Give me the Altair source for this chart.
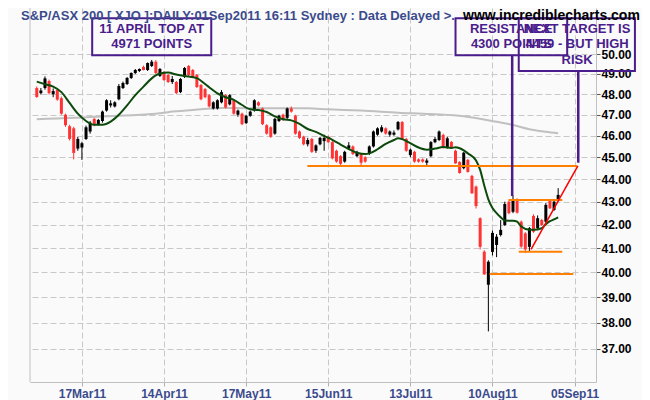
import altair as alt
import pandas as pd

# ---------------- price data (hundreds of index points), one bar per trading day ----------------
opens = [48.30, 48.05, 48.30, 48.65, 48.00, 48.20, 47.80, 47.00, 46.45, 46.35,
         45.40, 45.45, 45.85, 46.20, 46.80, 46.55, 46.70, 47.20, 47.45, 47.40,
         47.75, 48.30, 48.50, 48.80, 49.05, 49.15, 49.35, 49.20, 49.40, 49.62,
         48.90, 49.10, 48.95, 48.60, 48.60, 48.10, 48.85, 49.40, 49.20, 48.95,
         48.45, 48.25, 47.95, 47.30, 47.30, 47.60, 47.95, 47.50, 47.70, 47.00,
         47.05, 46.60, 46.95, 47.20, 47.60, 47.30, 46.50, 46.40, 46.10, 46.70,
         47.00, 46.85, 47.30, 46.95, 46.20, 45.95, 45.60, 45.85, 45.30, 45.60,
         45.75, 45.95, 45.70, 45.30, 45.05, 44.80, 45.40, 45.50, 45.05, 45.15,
         45.00, 45.15, 45.50, 46.05, 46.20, 46.35, 46.05, 46.05, 46.30, 46.65,
         45.85, 45.10, 45.25, 44.90, 44.90, 44.75, 45.05, 45.70, 45.80, 46.04,
         45.43, 45.71, 45.30, 44.78, 44.50, 44.88, 44.15, 43.67, 42.28, 40.86,
         39.50, 40.85, 41.14, 41.56, 41.99, 43.00, 42.56, 43.11, 42.13, 41.63,
         41.06, 42.38, 41.85, 42.20, 42.13, 43.08, 42.64, 43.08]
highs = [48.38, 48.30, 48.88, 48.72, 48.28, 48.25, 47.88, 47.05, 46.52, 46.42,
         45.95, 45.72, 46.48, 46.70, 46.85, 46.80, 47.20, 47.75, 47.70, 47.65,
         48.50, 48.62, 48.85, 49.08, 49.25, 49.28, 49.42, 49.58, 49.71, 49.70,
         49.30, 49.15, 49.00, 48.90, 48.65, 48.80, 49.35, 49.45, 49.25, 49.00,
         48.50, 48.30, 48.00, 47.65, 47.75, 48.20, 48.00, 48.00, 47.75, 47.25,
         47.10, 47.00, 47.20, 47.75, 47.65, 47.35, 46.55, 46.45, 46.85, 47.00,
         47.05, 47.35, 47.40, 47.00, 46.25, 46.00, 45.90, 45.90, 45.60, 45.95,
         46.05, 46.00, 45.75, 45.35, 45.10, 45.30, 45.70, 45.55, 45.30, 45.20,
         45.05, 45.55, 46.25, 46.40, 46.50, 46.40, 46.25, 46.25, 46.70, 46.70,
         45.90, 45.40, 45.30, 44.95, 44.95, 44.95, 45.75, 45.95, 46.25, 46.10,
         45.95, 45.75, 45.35, 44.82, 45.25, 44.92, 44.20, 43.72, 42.32, 40.92,
         40.50, 41.75, 41.60, 42.20, 43.00, 43.05, 43.28, 43.15, 42.18, 41.68,
         41.90, 42.45, 42.40, 42.25, 42.94, 43.12, 43.05, 43.60]
lows = [47.82, 47.98, 48.22, 47.98, 47.85, 47.68, 47.00, 46.42, 45.78, 44.90,
        45.30, 44.88, 45.80, 46.10, 46.45, 46.48, 46.62, 47.15, 47.35, 47.35,
        47.70, 48.25, 48.45, 48.75, 49.00, 49.10, 49.18, 49.15, 49.35, 48.98,
        48.85, 48.65, 48.55, 48.50, 48.00, 48.05, 48.80, 48.90, 48.80, 48.30,
        47.70, 47.80, 47.35, 47.25, 47.25, 47.55, 47.30, 47.45, 47.00, 46.90,
        46.50, 46.55, 46.90, 47.15, 47.40, 46.50, 46.05, 45.90, 46.05, 46.65,
        46.70, 46.80, 47.10, 46.05, 45.85, 45.55, 45.50, 45.20, 45.20, 45.55,
        45.30, 45.65, 44.90, 44.75, 44.60, 44.75, 45.35, 45.10, 45.00, 44.60,
        44.75, 45.10, 45.45, 46.00, 46.15, 46.05, 45.95, 46.00, 46.25, 45.80,
        45.25, 45.00, 44.75, 44.75, 44.75, 44.60, 45.00, 45.65, 45.75, 45.40,
        45.40, 45.40, 44.70, 44.25, 44.45, 44.30, 43.35, 42.70, 40.95, 39.90,
        37.66, 40.70, 40.63, 41.50, 41.95, 42.45, 42.50, 42.48, 41.02, 40.80,
        40.85, 41.65, 41.80, 41.95, 42.08, 42.68, 42.60, 43.02]
closes = [47.86, 48.18, 48.78, 48.05, 48.15, 47.73, 47.05, 46.50, 45.85, 45.20,
          45.85, 45.65, 46.40, 46.62, 46.50, 46.75, 47.15, 47.70, 47.55, 47.60,
          48.40, 48.55, 48.80, 49.05, 49.20, 49.25, 49.20, 49.55, 49.62, 49.05,
          49.25, 48.70, 48.60, 48.75, 48.05, 48.75, 49.30, 48.95, 48.85, 48.35,
          47.75, 47.85, 47.40, 47.60, 47.70, 48.10, 47.35, 47.95, 47.05, 47.20,
          46.55, 46.95, 47.15, 47.70, 47.45, 46.55, 46.10, 45.95, 46.80, 46.95,
          46.75, 47.30, 47.15, 46.10, 45.90, 45.60, 45.80, 45.25, 45.55, 45.90,
          45.90, 45.70, 44.95, 44.80, 44.70, 45.25, 45.55, 45.15, 45.25, 44.75,
          44.80, 45.50, 46.20, 46.35, 46.40, 46.10, 46.20, 46.15, 46.65, 45.85,
          45.30, 45.35, 44.80, 44.80, 44.80, 44.85, 45.70, 45.85, 46.20, 45.43,
          45.88, 45.43, 44.72, 44.28, 45.21, 44.33, 43.37, 42.81, 41.06, 39.92,
          40.44, 41.65, 41.49, 41.78, 42.90, 42.50, 43.08, 42.52, 41.07, 40.95,
          41.85, 41.70, 42.28, 41.99, 42.86, 42.71, 43.00, 43.30]

# short moving average (dark green)
ma_short_idx = [0, 2, 4, 6, 8, 10, 12, 14, 16, 18, 20, 22, 24, 26, 28, 30, 32, 34, 36, 39,
                41, 42, 44, 46, 48, 50, 52, 54, 56, 58, 60, 62, 64, 66, 68, 70, 72, 74, 76, 78,
                80, 81, 83, 85, 87, 88, 89, 91, 93, 95, 97, 99, 101, 102, 104, 105, 107, 108, 109, 110,
                111, 112, 113, 114, 116, 117, 118, 120, 121, 123, 124, 125, 126, 127]
ma_short_val = [48.62, 48.49, 48.37, 48.10, 47.57, 47.05, 46.70, 46.52, 46.52, 46.67, 47.00, 47.45,
                47.95, 48.37, 48.78, 49.02, 49.07, 48.97, 48.90, 48.79, 48.50, 48.34, 48.04, 47.85,
                47.72, 47.47, 47.26, 47.23, 47.13, 46.92, 46.78, 46.73, 46.56, 46.32, 46.18, 45.99,
                45.81, 45.59, 45.38, 45.21, 45.15, 45.18, 45.37, 45.62, 45.80, 45.88, 45.84, 45.65,
                45.45, 45.35, 45.40, 45.47, 45.43, 45.46, 45.32, 45.18, 44.85, 44.42, 43.72, 43.10,
                42.72, 42.50, 42.32, 42.18, 42.17, 42.13, 41.92, 41.78, 41.78, 41.85, 42.02, 42.15,
                42.23, 42.32]

# long moving average (grey)
ma_long_idx = [0, 16, 31, 33, 40, 45, 52, 66, 71, 79, 88, 96, 104, 112, 116, 120, 124, 127]
ma_long_val = [46.78, 46.91, 47.10, 47.15, 47.26, 47.33, 47.31, 47.31, 47.26, 47.20, 47.10, 47.03,
               46.93, 46.66, 46.51, 46.31, 46.19, 46.12]

# axes
tick_idx = [11, 31, 51, 71, 91, 111, 131]
tick_labels = ["17Mar11", "14Apr11", "17May11", "15Jun11", "13Jul11", "10Aug11", "05Sep11"]
y_ticks = [37, 38, 39, 40, 41, 42, 43, 44, 45, 46, 47, 48, 49, 50]

# drawn annotations (in bar index / price coordinates)
level_x1 = [65.9, 114.9, 117.4, 110.3]
level_x2 = [131.6, 128.0, 128.0, 130.7]
level_y = [44.60, 43.08, 40.86, 39.94]

trend_idx = [120.4, 131.8]
trend_val = [40.95, 44.60]

pointer_x = [115.8, 131.9]
pointer_top = [49.95, 49.15]
pointer_bottom = [43.25, 44.75]

box_x1 = [13.5, 102.0, 117.4]
box_x2 = [42.5, 129.2, 145.7]
box_top = [51.87, 51.87, 51.87]
box_bottom = [49.95, 49.95, 49.15]

note_text = ["11 APRIL TOP AT", "4971 POINTS", "RESISTANCE", "4300 POINTS",
             "NEXT TARGET IS", "4459 - BUT HIGH", "RISK"]
note_x = [28.0, 28.0, 115.6, 115.6, 131.6, 131.6, 131.6]
note_y = [51.33, 50.53, 51.33, 50.53, 51.33, 50.53, 49.71]

title_main = "S&P/ASX 200 [ XJO ]:DAILY:01Sep2011 16:11 Sydney : Data Delayed >."
title_site = "www.incrediblecharts.com"

# ---------------- chart ----------------
FONT = "Liberation Sans"
PURPLE = "#4a1c8c"
W, H = 566, 374

candles = pd.DataFrame({"i": list(range(len(opens))), "o": opens, "h": highs, "l": lows, "c": closes})
ma_s = pd.DataFrame({"i": ma_short_idx, "v": ma_short_val})
ma_l = pd.DataFrame({"i": ma_long_idx, "v": ma_long_val})
levels = pd.DataFrame({"x1": level_x1, "x2": level_x2, "y": level_y})
trend = pd.DataFrame({"i": trend_idx, "v": trend_val})
pointers = pd.DataFrame({"x": pointer_x, "y1": pointer_top, "y2": pointer_bottom})
boxes = pd.DataFrame({"x1": box_x1, "x2": box_x2, "y1": box_top, "y2": box_bottom})
notes = pd.DataFrame({"x": note_x, "y": note_y, "t": note_text})

xs = alt.Scale(domain=[-0.43, 135.0], nice=False, zero=False)
ys = alt.Scale(type="log", domain=[35.76, 52.42], nice=False)

labels_js = "[" + ",".join("'%s'" % s for s in tick_labels) + "]"
idx_js = "[" + ",".join(str(v) for v in tick_idx) + "]"

x_axis = alt.Axis(values=tick_idx, labelExpr="%s[indexof(%s, datum.value)]" % (labels_js, idx_js),
                  title=None, grid=True, gridDash=[6, 3], gridColor="#c8c8c8", gridWidth=1,
                  domainColor="#c0c0c0", tickColor="#b0b0b0", tickSize=4,
                  labelFont=FONT, labelFontWeight="bold", labelFontSize=12, labelColor="#3b4a8c",
                  labelPadding=2, labelFlush=False, labelOverlap=False)
y_axis = alt.Axis(orient="right", values=y_ticks, format=".2f", title=None,
                  grid=True, gridDash=[6, 3], gridColor="#c8c8c8", gridWidth=1,
                  domainColor="#c0c0c0", tickColor="#555555", tickSize=4,
                  labelFont=FONT, labelFontWeight="bold", labelFontSize=12, labelColor="#000000",
                  labelPadding=1, labelFlush=False, labelOverlap=False)


def X(field):
    return alt.X(field, type="quantitative", scale=xs, axis=x_axis)


def Y(field):
    return alt.Y(field, type="quantitative", scale=ys, axis=y_axis)


candle_color = alt.condition("datum.c >= datum.o", alt.value("#000000"), alt.value("#ff3333"))

long_ma = alt.Chart(ma_l).mark_line(color="#c0c0c0", strokeWidth=2, interpolate="monotone").encode(
    x=X("i"), y=Y("v"))

wicks = alt.Chart(candles).mark_rule(strokeWidth=1).encode(
    x=X("i"), y=Y("l"), y2="h", color=candle_color)

bodies = alt.Chart(candles).mark_bar(width=3).encode(
    x=X("i"), y=Y("o"), y2="c", color=candle_color)

short_ma = alt.Chart(ma_s).mark_line(color="#0b4a0b", strokeWidth=2, interpolate="monotone").encode(
    x=X("i"), y=Y("v"))

level_lines = alt.Chart(levels).mark_rule(color="#ff8000", strokeWidth=2).encode(
    x=X("x1"), x2="x2", y=Y("y"))

trend_line = alt.Chart(trend).mark_line(color="#ff0000", strokeWidth=1.5).encode(
    x=X("i"), y=Y("v"))

pointer_lines = alt.Chart(pointers).mark_rule(color=PURPLE, strokeWidth=2.5).encode(
    x=X("x"), y=Y("y1"), y2="y2")

note_boxes = alt.Chart(boxes).mark_rect(fillOpacity=0, stroke=PURPLE, strokeWidth=2).encode(
    x=X("x1"), x2="x2", y=Y("y1"), y2="y2")

note_texts = alt.Chart(notes).mark_text(font=FONT, fontSize=13, fontWeight="bold", color=PURPLE,
                                        align="center", baseline="middle").encode(
    x=X("x"), y=Y("y"), text="t:N")

left_frame = alt.Chart(pd.DataFrame({"a": [0]})).mark_rule(color="#c0c0c0", strokeWidth=1).encode(
    x=alt.value(0), y=alt.value(0), y2=alt.value(H))

title1 = alt.Chart(pd.DataFrame({"t": [title_main]})).mark_text(
    font=FONT, fontSize=13, fontWeight="bold", color="#3b4a8c", align="left", baseline="alphabetic").encode(
    x=alt.value(-9), y=alt.value(11.5), text="t:N")
title2 = alt.Chart(pd.DataFrame({"t": [title_site]})).mark_text(
    font=FONT, fontSize=14, fontWeight="bold", color="#000000", align="left", baseline="alphabetic").encode(
    x=alt.value(433), y=alt.value(11.5), text="t:N")

chart = alt.layer(
    long_ma, wicks, bodies, short_ma, level_lines, trend_line, pointer_lines,
    note_boxes, note_texts, left_frame, title1, title2
).properties(
    width=W, height=H,
    padding={"left": 22, "top": 0, "right": 46, "bottom": 18},
    autosize=alt.AutoSizeParams(type="none"),
    background="#fafafa",
).configure_view(stroke=None, fill="#fafafa")

chart.save("out.html", embed_options={"renderer": "svg", "actions": False})
